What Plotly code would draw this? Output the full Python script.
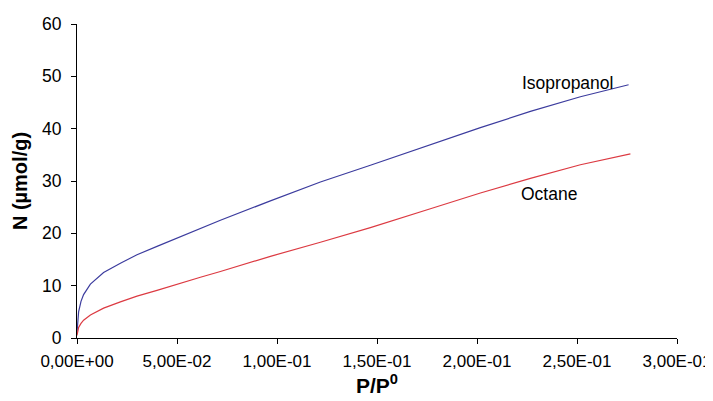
import plotly.graph_objects as go

# P/P0 values and adsorbed amounts (µmol/g)
iso_p = [0, 0.0003, 0.0008, 0.002, 0.0033, 0.0067, 0.0133, 0.0217, 0.03, 0.04,
         0.05, 0.0617, 0.0717, 0.0967, 0.1217, 0.1467, 0.1767, 0.2017, 0.2267,
         0.2517, 0.2758]
iso_n = [1.0, 3.2, 5.0, 7.0, 8.3, 10.3, 12.5, 14.3, 15.9, 17.5,
         19.1, 21.0, 22.5, 26.2, 29.8, 33.0, 37.0, 40.2, 43.3,
         46.1, 48.4]

oct_p = [0, 0.0003, 0.0008, 0.002, 0.0033, 0.0067, 0.0133, 0.0217, 0.03, 0.04,
         0.05, 0.0617, 0.0717, 0.0967, 0.1217, 0.1467, 0.1767, 0.2017, 0.2267,
         0.2517, 0.2767]
oct_n = [0.5, 1.4, 2.0, 2.8, 3.4, 4.4, 5.7, 6.9, 8.0, 9.1,
         10.3, 11.6, 12.7, 15.6, 18.3, 21.1, 24.7, 27.7, 30.5,
         33.1, 35.2]

x_ticks = [0, 0.05, 0.10, 0.15, 0.20, 0.25, 0.30]
x_tick_text = ["0,00E+00", "5,00E-02", "1,00E-01", "1,50E-01", "2,00E-01", "2,50E-01", "3,00E-01"]
y_ticks = [0, 10, 20, 30, 40, 50, 60]

FONT = "Liberation Sans, Arial, sans-serif"
FS = 17.5
TFS = 17

fig = go.Figure()
fig.add_trace(go.Scatter(x=iso_p, y=iso_n, mode="lines", name="Isopropanol",
                         line=dict(color="#3c3c9e", width=1.2)))
fig.add_trace(go.Scatter(x=oct_p, y=oct_n, mode="lines", name="Octane",
                         line=dict(color="#dc3a42", width=1.2)))

fig.add_annotation(x=0.245, y=48.7, text="Isopropanol", showarrow=False,
                   font=dict(family=FONT, size=FS, color="black"))
fig.add_annotation(x=0.2358, y=27.5, text="Octane", showarrow=False,
                   font=dict(family=FONT, size=FS, color="black"))

# the page body adds an 8px offset, so the figure is sized to the remaining view
fig.update_layout(
    width=705, height=393,
    margin=dict(l=69, r=36, t=16, b=63),
    paper_bgcolor="white", plot_bgcolor="white",
    showlegend=False,
    font=dict(family=FONT, size=FS, color="black"),
)
fig.update_xaxes(
    range=[0, 0.3], tickvals=x_ticks, ticktext=x_tick_text, automargin=False,
    showgrid=False, zeroline=False, showline=True, linecolor="black", linewidth=1,
    ticks="outside", ticklen=5, tickcolor="black", ticklabelstandoff=3,
    tickfont=dict(family=FONT, size=TFS, color="black"),
    title=dict(text="<b>P/P<sup>0</sup></b>", font=dict(family=FONT, size=21, color="black"), standoff=4),
)
fig.update_yaxes(
    range=[0, 60], tickvals=y_ticks, automargin=False,
    showgrid=False, zeroline=False, showline=True, linecolor="black", linewidth=1,
    ticks="outside", ticklen=5, tickcolor="black", ticklabelstandoff=6,
    tickfont=dict(family=FONT, size=FS, color="black"),
    title=dict(text="<b>N (µmol/g)</b>", font=dict(family=FONT, size=20, color="black"), standoff=9),
)

fig.write_html("out.html")
